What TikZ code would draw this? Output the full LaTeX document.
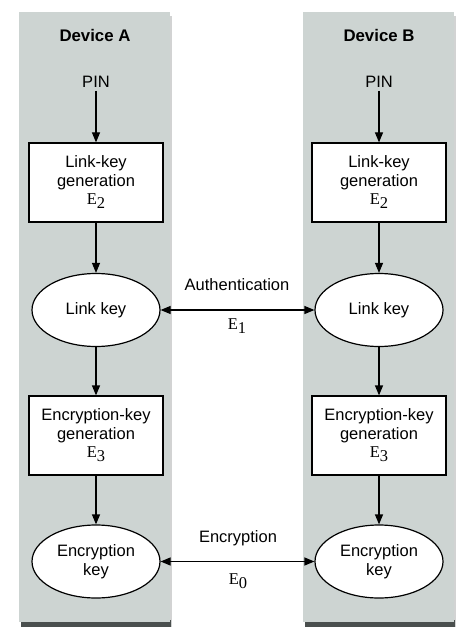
\documentclass[tikz,border=0pt]{standalone}
\usepackage{fontspec}
\setmainfont{Liberation Sans}
\newfontfamily\serifE{Liberation Serif}
\usetikzlibrary{arrows.meta,shapes.geometric}
\definecolor{panel}{HTML}{CDD4D2}
\definecolor{panelshadow}{HTML}{4A4F4E}
\tikzset{
  panelbox/.style={fill=panel, draw=none},
  genbox/.style={draw=black, line width=1.2pt, fill=white, minimum width=134pt, minimum height=79pt, align=center, inner sep=0pt, font=\fontsize{16.5}{19}\selectfont},
  keyell/.style={ellipse, draw=black, line width=1.2pt, fill=white, minimum width=128pt, minimum height=73pt, align=center, inner sep=0pt, font=\fontsize{16.5}{19}\selectfont},
  lbl/.style={inner sep=0pt, font=\fontsize{16.5}{19}\selectfont},
  title/.style={inner sep=0pt, font=\fontsize{16.8}{19}\selectfont\bfseries},
  flow/.style={line width=1.2pt, -{Triangle[length=10pt,width=8pt]}},
  both/.style={line width=1.2pt, {Triangle[length=10pt,width=8pt]}-{Triangle[length=10pt,width=8pt]}},
}
\newcommand{\Esub}[1]{{\serifE E}\raisebox{-4pt}{\serifE #1}}
\begin{document}
\begin{tikzpicture}[x=1pt,y=-1pt]
\useasboundingbox (0,0) rectangle (474,644);
\fill[white] (0,0) rectangle (474,644);
% panels with shadow
\fill[panelshadow!25] (169,16) rectangle (172,627);
\fill[panelshadow] (21,620) rectangle (171,627);
\fill[panel] (19,12) rectangle (170,622);
\fill[panelshadow!25] (453,16) rectangle (456,627);
\fill[panelshadow] (305,620) rectangle (455,627);
\fill[panel] (303,12) rectangle (454,622);
% Device A
\node[title] (tA) at (95,35) {Device A};
\node[lbl] (pinA) at (96,82) {PIN};
\node[genbox] (genA) at (96,182.5) {Link-key\\generation\\[-1pt]\Esub{2}};
\node[keyell] (lkA) at (96,310) {Link key};
\node[genbox] (egA) at (96,435.5) {Encryption-key\\generation\\[-1pt]\Esub{3}};
\node[keyell] (ekA) at (96,561.5) {Encryption\\key};
% Device B
\node[title] (tB) at (379,35) {Device B};
\node[lbl] (pinB) at (379,82) {PIN};
\node[genbox] (genB) at (379,182.5) {Link-key\\generation\\[-1pt]\Esub{2}};
\node[keyell] (lkB) at (379,310) {Link key};
\node[genbox] (egB) at (379,435.5) {Encryption-key\\generation\\[-1pt]\Esub{3}};
\node[keyell] (ekB) at (379,561.5) {Encryption\\key};
% vertical flows
\draw[flow] ([yshift=-3pt]pinA.south) -- (genA.north);
\draw[flow] (genA.south) -- (lkA.north);
\draw[flow] (lkA.south) -- (egA.north);
\draw[flow] (egA.south) -- (ekA.north);
\draw[flow] ([yshift=-3pt]pinB.south) -- (genB.north);
\draw[flow] (genB.south) -- (lkB.north);
\draw[flow] (lkB.south) -- (egB.north);
\draw[flow] (egB.south) -- (ekB.north);
% horizontal links
\draw[both] (lkA.east) -- (lkB.west);
\draw[both] (ekA.east) -- (ekB.west);
\node[lbl] (auth) at (237,285) {Authentication};
\node[lbl] (e1) at (237,326) {\Esub{1}};
\node[lbl] (enc) at (238,538) {Encryption};
\node[lbl] (e0) at (238,581) {\Esub{0}};
\end{tikzpicture}
\end{document}
